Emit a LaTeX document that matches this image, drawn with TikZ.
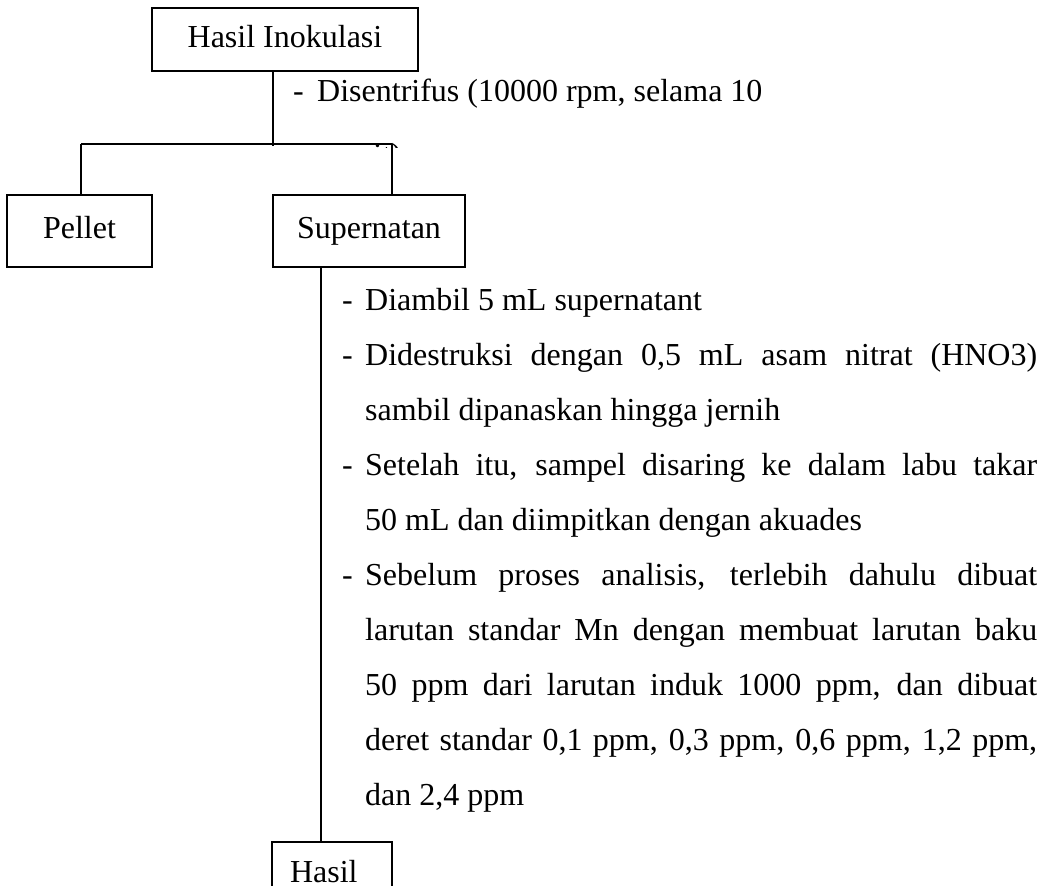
\documentclass[tikz,border=0pt]{standalone}
\usepackage{fontspec}
\setmainfont{Liberation Serif}
\newcommand\jline[1]{\makebox[672pt][s]{#1}}
\begin{document}
\begin{tikzpicture}[x=1pt,y=-1pt,
  every node/.style={font=\fontsize{32}{38}\selectfont},
  box/.style={draw, line width=1.3pt, inner sep=0pt, text height=22pt, text depth=7pt},
  txt/.style={anchor=base west, inner sep=0pt},
  conn/.style={line width=1.3pt}]
\useasboundingbox (0,0) rectangle (1050,886);
\clip (0,0) rectangle (1050,886);
% boxes
\node[box, minimum width=266pt, minimum height=63pt] (ino) at (285,39.5) {Hasil Inokulasi};
\node[box, line width=2.5pt, minimum width=145pt, minimum height=72pt] (pel) at (79.5,231) {Pellet};
\node[box, minimum width=192pt, minimum height=72pt] (sup) at (369,231) {Supernatan};
\node[box, minimum width=120pt, minimum height=66pt, text width=84pt, align=left, inner xsep=18pt] (has) at (332,875) {Hasil};
% connectors
\coordinate (J) at (273,144);
\coordinate (L) at (81,144);
\coordinate (R) at (392,144);
\coordinate (S) at (321,0);
\draw[conn] (ino.south -| J) -- ([yshift=-2pt]J);
\draw[conn] (L) -- (R);
\draw[conn] (L) -- (L |- pel.north);
\draw[conn] (R) -- (R |- sup.north);
\draw[conn] (S |- sup.south) -- (S |- has.north);
% first step text
\node[txt] (d0) at (293,101) {-};
\node[txt] (t0) at (317,101) {Disentrifus (10000 rpm, selama 10};
\begin{scope}
\clip (250,120) rectangle (460,147.5);
\node[anchor=base east, inner sep=0pt] (t0b) at (402,165) {menit)};
\end{scope}
% list
\node[txt] (d1) at (342,310) {-};
\node[txt] (l1) at (365,310) {Diambil 5 mL supernatant};
\node[txt] (d2) at (342,365) {-};
\node[txt] (l2) at (365,365) {\jline{Didestruksi dengan 0,5 mL asam nitrat (HNO3)}};
\node[txt] (l3) at (365,420) {sambil dipanaskan hingga jernih};
\node[txt] (d4) at (342,475) {-};
\node[txt] (l4) at (365,475) {\jline{Setelah itu, sampel disaring ke dalam labu takar}};
\node[txt] (l5) at (365,530) {50 mL dan diimpitkan dengan akuades};
\node[txt] (d6) at (342,585) {-};
\node[txt] (l6) at (365,585) {\jline{Sebelum proses analisis, terlebih dahulu dibuat}};
\node[txt] (l7) at (365,640) {\jline{larutan standar Mn dengan membuat larutan baku}};
\node[txt] (l8) at (365,695) {\jline{50 ppm dari larutan induk 1000 ppm, dan dibuat}};
\node[txt] (l9) at (365,750) {\jline{deret standar 0,1 ppm, 0,3 ppm, 0,6 ppm, 1,2 ppm,}};
\node[txt] (l10) at (365,805) {dan 2,4 ppm};
\end{tikzpicture}
\end{document}
